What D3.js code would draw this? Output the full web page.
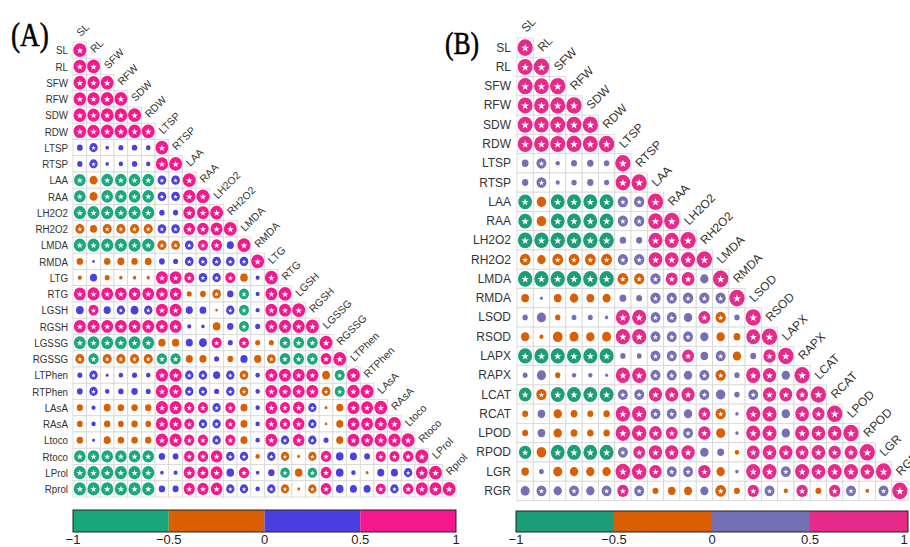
<!DOCTYPE html>
<html>
<head>
<meta charset="utf-8">
<script src="https://cdn.jsdelivr.net/npm/d3@7"></script>
<style>
  html, body { margin: 0; padding: 0; background: #fff; }
  svg { display: block; }
</style>
</head>
<body>
<svg id="chart" width="910" height="547"></svg>
<script>
// ---------------- DATA ----------------
const varsA = ["SL","RL","SFW","RFW","SDW","RDW","LTSP","RTSP","LAA","RAA","LH2O2","RH2O2","LMDA","RMDA","LTG","RTG","LGSH","RGSH","LGSSG","RGSSG","LTPhen","RTPhen","LAsA","RAsA","Ltoco","Rtoco","LProl","Rprol"];

// lower-triangle correlation values, row i holds columns 0..i
const corrA = [
  [1],
  [0.93, 1],
  [0.95, 0.92, 1],
  [0.93, 0.92, 0.96, 1],
  [0.94, 0.91, 0.96, 0.95, 1],
  [0.93, 0.92, 0.95, 0.96, 0.95, 1],
  [0.2, 0.42, 0.08, 0.15, 0.18, 0.13, 1],
  [0.17, 0.42, 0.07, 0.12, 0.17, 0.11, 0.9, 1],
  [-0.8, -0.38, -0.82, -0.82, -0.82, -0.82, 0.45, 0.45, 1],
  [-0.8, -0.38, -0.82, -0.82, -0.82, -0.82, 0.45, 0.45, 0.9, 1],
  [-0.9, -0.88, -0.9, -0.9, -0.9, -0.9, 0.18, 0.16, 0.85, 0.85, 1],
  [-0.5, -0.3, -0.5, -0.5, -0.5, -0.5, 0.45, 0.45, 0.8, 0.8, 0.85, 1],
  [-0.88, -0.88, -0.88, -0.88, -0.88, -0.88, -0.5, -0.45, 0.45, 0.6, 0.7, 0.3, 1],
  [-0.25, 0.04, -0.25, -0.3, -0.25, -0.28, 0.2, 0.15, 0.45, 0.45, 0.45, 0.45, 0.45, 1],
  [-0.1, 0.3, -0.15, -0.07, -0.07, -0.07, 0.85, 0.85, 0.6, 0.45, 0.42, 0.6, -0.35, 0.1, 1],
  [0.85, 0.88, 0.85, 0.85, 0.85, 0.85, 0.85, 0.85, -0.15, -0.2, -0.45, 0.25, -0.6, 0.1, 0.85, 1],
  [0.35, 0.6, 0.3, 0.42, 0.38, 0.42, 0.85, 0.85, 0.3, 0.28, -0.04, 0.42, -0.6, 0.1, 0.85, 0.85, 1],
  [0.85, 0.88, 0.85, 0.85, 0.85, 0.85, 0.85, 0.85, 0.1, 0.07, -0.35, 0.25, -0.6, 0.15, 0.85, 0.88, 0.88, 1],
  [-0.85, -0.85, -0.85, -0.85, -0.85, -0.85, -0.32, -0.32, 0.3, 0.38, 0.6, 0.15, 0.6, -0.15, -0.15, -0.7, -0.7, -0.7, 1],
  [-0.5, -0.65, -0.5, -0.5, -0.5, -0.5, -0.65, -0.65, -0.3, -0.3, 0.15, -0.2, 0.32, -0.32, -0.45, -0.7, -0.7, -0.7, 0.7, 1],
  [0.15, 0.42, 0.05, 0.12, 0.15, 0.12, 0.9, 0.9, 0.42, 0.42, 0.3, 0.42, -0.45, 0.12, 0.85, 0.85, 0.85, 0.85, -0.38, -0.6, 1],
  [0.2, 0.42, 0.12, 0.18, 0.25, 0.15, 0.9, 0.9, 0.42, 0.42, 0.15, 0.42, -0.45, 0.12, 0.85, 0.85, 0.85, 0.85, -0.45, -0.6, 0.9, 1],
  [-0.22, 0.1, -0.3, -0.25, -0.25, -0.25, 0.9, 0.9, 0.62, 0.62, 0.42, 0.6, -0.3, 0.12, 0.85, 0.62, 0.8, 0.42, -0.05, -0.3, 0.85, 0.85, 1],
  [-0.2, 0.12, -0.25, -0.2, -0.25, -0.2, 0.9, 0.9, 0.6, 0.42, 0.42, 0.6, -0.3, 0.12, 0.85, 0.65, 0.8, 0.42, -0.04, -0.3, 0.85, 0.85, 0.9, 1],
  [-0.25, 0.05, -0.3, -0.25, -0.25, -0.25, 0.9, 0.9, 0.62, 0.62, 0.42, 0.62, -0.3, 0.12, 0.85, 0.42, 0.8, 0.42, 0.15, -0.3, 0.85, 0.85, 0.9, 0.9, 1],
  [-0.8, -0.8, -0.8, -0.8, -0.8, -0.8, 0.25, 0.2, 0.65, 0.65, 0.8, 0.42, 0.42, -0.12, 0.42, -0.42, -0.05, -0.42, 0.65, 0.35, 0.3, 0.2, 0.6, 0.6, 0.65, 1],
  [-0.9, -0.9, -0.9, -0.9, -0.9, -0.9, 0.08, 0.1, 0.75, 0.75, 0.85, 0.35, 0.65, 0.08, 0.25, -0.55, -0.35, -0.55, 0.7, 0.35, 0.12, -0.05, 0.3, 0.3, 0.42, 0.85, 1],
  [-0.9, -0.9, -0.9, -0.9, -0.9, -0.9, 0.25, 0.22, 0.75, 0.75, 0.82, 0.42, 0.42, 0.12, 0.42, -0.42, -0.05, -0.42, 0.7, 0.35, 0.3, 0.3, 0.6, 0.42, 0.65, 0.88, 0.88, 1]
];

// significance flags (1 = starred), same layout as corrA
const sigA = [
  "1","11","111","1111","11111","111111",
  "0100001","01000011","101111111","1011111111",
  "11111100111","101111111111","1111111111101","00000000111111",
  "000000111111001","1111111100101011","01010111000110111","111111110000101111",
  "1111110000101001111","11111111000000111111","010000111101101111011","0100001111011011111111",
  "00000011111100111100111","000000111111001111001111","0000001111110011110011111",
  "11111100111110110110001111","111111001110100101100000111","1111110011111011011000111111"
];

const varsB = ["SL","RL","SFW","RFW","SDW","RDW","LTSP","RTSP","LAA","RAA","LH2O2","RH2O2","LMDA","RMDA","LSOD","RSOD","LAPX","RAPX","LCAT","RCAT","LPOD","RPOD","LGR","RGR"];

const corrB = [
  [1],
  [0.93, 1],
  [0.95, 0.92, 1],
  [0.93, 0.92, 0.96, 1],
  [0.94, 0.91, 0.96, 0.95, 1],
  [0.93, 0.92, 0.95, 0.96, 0.95, 1],
  [0.2, 0.42, 0.08, 0.15, 0.18, 0.13, 1],
  [0.17, 0.42, 0.07, 0.12, 0.17, 0.11, 0.9, 1],
  [-0.8, -0.38, -0.82, -0.82, -0.82, -0.82, 0.45, 0.45, 1],
  [-0.8, -0.38, -0.82, -0.82, -0.82, -0.82, 0.45, 0.45, 0.9, 1],
  [-0.9, -0.88, -0.9, -0.9, -0.9, -0.9, 0.18, 0.16, 0.85, 0.85, 1],
  [-0.5, -0.3, -0.5, -0.5, -0.5, -0.5, 0.45, 0.45, 0.8, 0.8, 0.85, 1],
  [-0.88, -0.88, -0.88, -0.88, -0.88, -0.88, -0.5, -0.45, 0.45, 0.6, 0.7, 0.3, 1],
  [-0.25, 0.04, -0.25, -0.3, -0.25, -0.28, 0.2, 0.15, 0.45, 0.45, 0.45, 0.45, 0.45, 1],
  [0.12, 0.35, -0.12, 0.1, 0.1, 0.05, 0.85, 0.85, 0.42, 0.42, 0.3, 0.6, -0.45, 0.12, 1],
  [-0.3, -0.07, -0.4, -0.35, -0.3, -0.35, 0.85, 0.85, 0.42, 0.42, 0.42, 0.3, -0.3, -0.2, 0.8, 1],
  [-0.85, -0.85, -0.85, -0.85, -0.85, -0.85, 0.12, 0.1, 0.42, 0.42, 0.6, 0.25, 0.42, -0.3, 0.15, 0.65, 1],
  [0.1, 0.35, -0.12, 0.08, 0.08, 0.04, 0.85, 0.85, 0.42, 0.42, 0.3, 0.42, -0.45, 0.12, 0.85, 0.75, 0.3, 1],
  [-0.7, -0.45, -0.82, -0.82, -0.82, -0.82, 0.42, 0.42, 0.75, 0.75, 0.75, 0.42, 0.38, 0.12, 0.42, 0.75, 0.7, 0.6, 1],
  [-0.15, 0.25, -0.3, -0.2, -0.15, -0.18, 0.88, 0.88, 0.42, 0.42, 0.3, 0.6, -0.45, 0.05, 0.85, 0.85, 0.3, 0.8, 0.65, 1],
  [-0.15, 0.25, -0.3, -0.2, -0.18, -0.18, 0.9, 0.9, 0.7, 0.6, 0.42, 0.65, -0.35, 0.05, 0.85, 0.85, 0.3, 0.85, 0.8, 0.8, 1],
  [-0.65, -0.4, -0.82, -0.82, -0.82, -0.82, 0.42, 0.6, 0.75, 0.75, 0.75, 0.3, 0.2, -0.08, 0.7, 0.8, 0.75, 0.7, 0.8, 0.65, 0.7, 1],
  [-0.25, 0.1, -0.35, -0.3, -0.3, -0.3, 0.9, 0.9, 0.65, 0.42, 0.42, 0.65, -0.3, 0.05, 0.85, 0.85, 0.42, 0.85, 0.8, 0.85, 0.85, 0.8, 1],
  [0.35, 0.42, 0.3, 0.42, 0.3, 0.42, 0.55, 0.42, -0.15, -0.25, -0.28, 0.28, -0.5, -0.15, 0.55, 0.42, -0.08, 0.55, -0.15, 0.55, 0.42, -0.06, 0.42, 1]
];

const sigB = [
  "1","11","111","1111","11111","111111",
  "0100001","01000011","101111111","1011111111",
  "11111100111","101111111111","1111111111101","00000000111111",
  "000000111101101","0000001111100011","11111100111010011","000000111101101101",
  "1111111111110011111","00000011110110110111","000000111111001101111",
  "1011111111100011111111","00000011111100111111111","010101110000101101011011"
];

const colorsA = ["#19a87c", "#d95f02", "#4a3fe0", "#f5178b"];
const colorsB = ["#1b9e77", "#d95f02", "#7570b3", "#e7298a"];
const binBreaks = [-0.5, 0, 0.5];
const legendTicks = [-1, -0.5, 0, 0.5, 1];
const legendTickLabels = ["\u22121", "\u22120.5", "0", "0.5", "1"];

// ---------------- DRAW ----------------
const W = 910;
const svg = d3.select("#chart");

function drawPanel(cfg) {
  const g = svg.append("g");
  const x = d3.scaleBand().domain(cfg.vars).range([cfg.left, cfg.right]);
  const y = d3.scaleBand().domain(cfg.vars).range([cfg.top, cfg.bottom]);
  const color = d3.scaleThreshold().domain(binBreaks).range(cfg.colors);
  const cw = x.bandwidth(), ch = y.bandwidth();
  const size = d3.scaleSqrt().domain([0, 1]).range([0, 1]);

  const cells = [];
  cfg.corr.forEach((row, i) => {
    row.forEach((v, j) => {
      cells.push({ r: cfg.vars[i], c: cfg.vars[j], v: v, s: cfg.sig[i][j] === "1" });
    });
  });

  // grid
  g.selectAll("rect.cell").data(cells).enter().append("rect")
    .attr("x", d => x(d.c)).attr("y", d => y(d.r))
    .attr("width", cw).attr("height", ch)
    .attr("fill", "#fff").attr("stroke", "#d6d6d6").attr("stroke-width", 0.8);

  // circles
  g.selectAll("ellipse.dot").data(cells).enter().append("ellipse")
    .attr("cx", d => x(d.c) + cw / 2).attr("cy", d => y(d.r) + ch / 2)
    .attr("rx", d => 0.47 * cw * size(Math.abs(d.v)))
    .attr("ry", d => 0.43 * ch * size(Math.abs(d.v)))
    .attr("fill", d => color(d.v));

  // stars
  const star = d3.symbol().type(d3.symbolStar);
  g.selectAll("path.star").data(cells.filter(d => d.s)).enter().append("path")
    .attr("transform", d => `translate(${x(d.c) + cw / 2},${y(d.r) + ch / 2 + 0.4})`)
    .attr("d", d => {
      const rx = 0.47 * cw * size(Math.abs(d.v));
      const sr = 0.52 * rx + 0.3;
      return star.size(sr * sr / 0.8908)();
    })
    .attr("fill", "#fff");

  // row labels
  g.selectAll("text.rowlab").data(cfg.vars).enter().append("text")
    .attr("transform", d => `translate(${cfg.left - cfg.rowGap},${y(d) + ch / 2}) scale(${cfg.rowScale},1)`)
    .attr("text-anchor", "end").attr("dominant-baseline", "central")
    .attr("font-family", "Liberation Sans, Arial, sans-serif")
    .attr("font-size", cfg.rowFont).attr("fill", "#333")
    .text(d => d);

  // column labels (diagonal)
  g.selectAll("text.collab").data(cfg.vars).enter().append("text")
    .attr("transform", d => `translate(${x(d) + cw * 0.5 + 1},${y(d) - 5}) rotate(-45)`)
    .attr("text-anchor", "start")
    .attr("font-family", "Liberation Sans, Arial, sans-serif")
    .attr("font-size", cfg.colFont).attr("fill", "#333")
    .text(d => d);

  // title
  g.append("text")
    .attr("transform", `translate(${cfg.titleX},${cfg.titleY}) scale(0.8,1)`)
    .attr("font-family", "Liberation Serif, Times New Roman, serif")
    .attr("font-size", cfg.titleSize).attr("fill", "#000")
    .attr("stroke", "#000").attr("stroke-width", 0.6)
    .text(cfg.title);

  // color bar
  const lx = d3.scaleLinear().domain([-1, 1]).range([cfg.barLeft, cfg.barRight]);
  const bins = [[-1, -0.5], [-0.5, 0], [0, 0.5], [0.5, 1]];
  g.selectAll("rect.bin").data(bins).enter().append("rect")
    .attr("x", d => lx(d[0])).attr("y", cfg.barTop)
    .attr("width", d => lx(d[1]) - lx(d[0])).attr("height", cfg.barH)
    .attr("fill", d => color((d[0] + d[1]) / 2));
  g.append("rect")
    .attr("x", lx(-1)).attr("y", cfg.barTop)
    .attr("width", lx(1) - lx(-1)).attr("height", cfg.barH)
    .attr("fill", "none").attr("stroke", "#222").attr("stroke-width", 1);
  g.selectAll("text.tick").data(legendTicks).enter().append("text")
    .attr("x", d => Math.min(lx(d), W - 6)).attr("y", 543.5)
    .attr("text-anchor", "middle")
    .attr("font-family", "Liberation Sans, Arial, sans-serif")
    .attr("font-size", 13).attr("fill", "#222")
    .text((d, i) => legendTickLabels[i]);
}

drawPanel({
  vars: varsA, corr: corrA, sig: sigA, colors: colorsA,
  left: 73, right: 456, top: 42, bottom: 497,
  rowGap: 5, rowScale: 0.85, rowFont: 11.5, colFont: 10.5,
  title: "(A)", titleX: 11, titleY: 46, titleSize: 34,
  barLeft: 73, barRight: 456, barTop: 510, barH: 22
});

drawPanel({
  vars: varsB, corr: corrB, sig: sigB, colors: colorsB,
  left: 517, right: 908, top: 38, bottom: 500.5,
  rowGap: 6, rowScale: 1, rowFont: 12, colFont: 12,
  title: "(B)", titleX: 445, titleY: 54, titleSize: 32,
  barLeft: 516, barRight: 908, barTop: 511, barH: 21
});
</script>
</body>
</html>
